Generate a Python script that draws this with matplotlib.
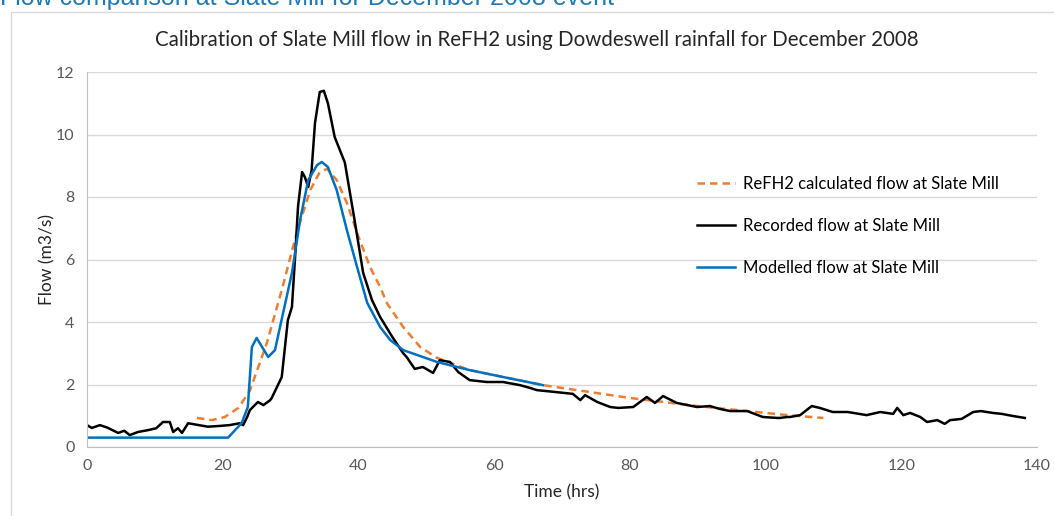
import matplotlib
matplotlib.use('Agg')
import matplotlib.pyplot as plt
from matplotlib.patches import Rectangle

# recorded flow at Slate Mill (black)
rec_t = [0, 0.7, 1.9, 3.0, 4.6, 5.5, 6.3, 7.5, 9.0, 10.2, 11.2, 12.2, 12.7, 13.4, 14.0, 14.9,
         16.5, 17.8, 19.3, 21.0, 22.5, 23.0, 23.6, 24.0, 25.0, 25.2, 26.0, 27.0, 27.2, 28.0,
         28.7, 29.6, 30.2, 30.7, 31.1, 31.7, 32.1, 32.6, 33.1, 33.6, 34.3, 34.9, 35.5, 36.5,
         38.0, 39.5, 40.7, 42.0, 43.2, 45.0, 46.6, 47.1, 48.3, 49.5, 51.0, 52.0, 53.5, 54.7,
         56.4, 58.9, 61.3, 63.8, 65.3, 66.3, 69.0, 71.6, 72.7, 73.4, 75.2, 77.1, 78.3, 80.5,
         82.5, 83.7, 84.9, 86.9, 89.9, 91.8, 93.2, 94.8, 97.3, 98.5, 99.6, 101.7, 102.1, 103.2,
         103.6, 105.1, 106.8, 108.0, 109.9, 112.1, 114.9, 116.9, 118.8, 119.4, 120.3, 121.3,
         122.8, 123.8, 125.3, 126.4, 127.2, 128.9, 130.6, 131.7, 133.5, 134.8, 136.5, 138.2]
rec_q = [0.70, 0.61, 0.70, 0.62, 0.45, 0.52, 0.38, 0.48, 0.54, 0.60, 0.80, 0.80, 0.48, 0.60, 0.45, 0.76,
         0.70, 0.65, 0.67, 0.70, 0.76, 0.70, 0.96, 1.18, 1.40, 1.44, 1.34, 1.50, 1.56, 1.92,
         2.24, 4.06, 4.48, 6.20, 7.70, 8.80, 8.64, 8.32, 8.86, 10.37, 11.36, 11.40, 11.00, 9.92,
         9.10, 7.17, 5.57, 4.70, 4.16, 3.52, 3.00, 2.88, 2.50, 2.56, 2.37, 2.78, 2.72, 2.40,
         2.14, 2.08, 2.08, 1.98, 1.89, 1.82, 1.76, 1.70, 1.50, 1.66, 1.44, 1.28, 1.25, 1.28,
         1.60, 1.41, 1.63, 1.41, 1.28, 1.31, 1.22, 1.15, 1.15, 1.05, 0.96, 0.93, 0.93, 0.96,
         0.96, 1.02, 1.31, 1.25, 1.12, 1.12, 1.02, 1.12, 1.06, 1.25, 1.02, 1.09,
         0.96, 0.80, 0.86, 0.74, 0.86, 0.90, 1.12, 1.15, 1.09, 1.06, 0.99, 0.93]

# modelled flow (blue)
mod_t = [0, 20.8, 22.8, 23.7, 24.3, 25.0, 25.8, 26.7, 27.7, 28.9, 30.2, 31.4, 32.6, 33.9,
         34.6, 35.5, 36.8, 38.3, 39.8, 41.3, 43.2, 44.7, 46.6, 51.6, 56.4, 61.3, 66.3, 67.2]
mod_q = [0.30, 0.30, 0.77, 1.28, 3.20, 3.49, 3.20, 2.88, 3.10, 4.29, 5.57, 7.26, 8.54, 9.02,
         9.12, 8.96, 8.22, 6.94, 5.76, 4.61, 3.84, 3.42, 3.10, 2.72, 2.46, 2.24, 2.02, 1.98]

# ReFH2 calculated flow (orange dashed)
refh_t = [16.2, 18.4, 20.3, 22.3, 24.0, 26.5, 28.7, 30.9, 32.9, 34.3, 35.4, 36.8, 38.3,
          39.8, 41.7, 43.2, 44.2, 46.6, 49.1, 51.6, 56.4, 67.2, 80.0, 89.9, 103.2, 108.5]
refh_q = [0.93, 0.86, 0.96, 1.25, 1.80, 3.33, 5.02, 6.85, 8.22, 8.80, 8.90, 8.54, 7.81,
          6.85, 5.76, 5.12, 4.60, 3.84, 3.20, 2.85, 2.46, 1.98, 1.57, 1.31, 1.02, 0.93]

fig = plt.figure(figsize=(10.54, 5.16), dpi=100)
fig.patches.append(Rectangle((11/1054, -0.1), 1.2, 1 - 12/516 + 0.1, transform=fig.transFigure,
                             fill=False, edgecolor='#d9d9d9', lw=1))
fig.text(0.0, 1 - 5/516, 'Flow comparison at Slate Mill for December 2008 event',
         color='#1f7ab8', fontsize=18, family='Liberation Sans', va='baseline')
fig.text(537/1054, 1 - 40/516, 'Calibration of Slate Mill flow in ReFH2 using Dowdeswell rainfall for December 2008',
         ha='center', va='center', fontsize=14.8, family='Lato', color='#262626')

ax = fig.add_axes([87/1054, 1 - 447/516, 950/1054, 375/516])
ax.plot(refh_t, refh_q, color='#ed7d31', lw=1.8, ls=(0, (3, 2)), label='ReFH2 calculated flow at Slate Mill')
ax.plot(rec_t, rec_q, color='black', lw=1.8, label='Recorded flow at Slate Mill')
ax.plot(mod_t, mod_q, color='#0070c0', lw=1.8, label='Modelled flow at Slate Mill')

ax.set_xlim(0, 140)
ax.set_ylim(0, 12)
ax.set_xticks(range(0, 141, 20))
ax.set_yticks(range(0, 13, 2))
ax.grid(axis='y', color='#d9d9d9', lw=1)
ax.set_axisbelow(True)
for s in ['top', 'right']:
    ax.spines[s].set_visible(False)
for s in ['left', 'bottom']:
    ax.spines[s].set_color('#bfbfbf')
ax.tick_params(length=0, labelsize=11.5, labelcolor='#595959', pad=9)
for lbl in ax.get_xticklabels() + ax.get_yticklabels():
    lbl.set_family('Lato')
ax.set_xlabel('Time (hrs)', fontsize=12.5, family='Lato', color='#262626', labelpad=8)
ax.set_ylabel('Flow (m3/s)', fontsize=12.5, family='Lato', color='#262626', labelpad=0)

ax.legend(loc='upper left', bbox_to_anchor=(0.626, 0.762), frameon=False, handlelength=2.3,
          handletextpad=0.5, labelspacing=1.55, prop={'family': 'Lato', 'size': 12})

fig.savefig('out.png', dpi=100)
